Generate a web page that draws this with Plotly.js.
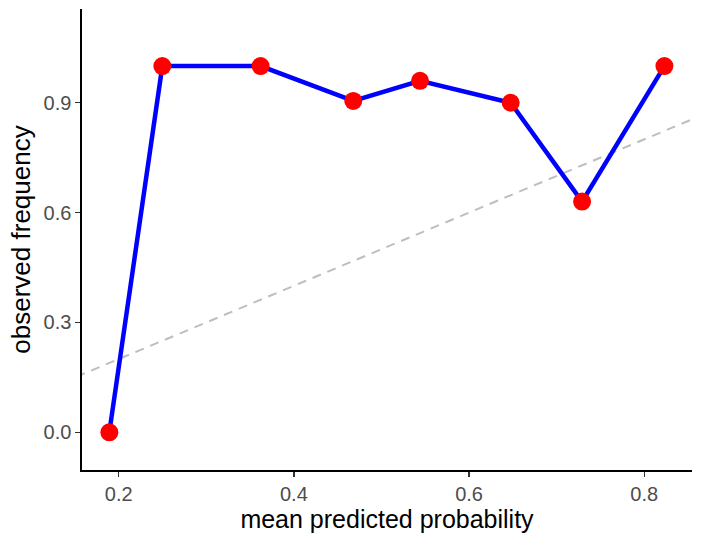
<!DOCTYPE html>
<html>
<head>
<meta charset="utf-8">
<script src="https://cdn.plot.ly/plotly-3.0.1.min.js"></script>
<style>html,body{margin:0;padding:0;background:#fff;}#chart{width:702px;height:541px;}</style>
</head>
<body>
<div id="chart"></div>
<script>
const meanPredicted = [0.1893, 0.2498, 0.362, 0.4678, 0.544, 0.6475, 0.729, 0.823];
const observedFreq = [0.0, 1.0, 1.0, 0.905, 0.96, 0.90, 0.63, 1.0];
const xTicks = [0.2, 0.4, 0.6, 0.8];
const yTicks = [0.0, 0.3, 0.6, 0.9];
const xRange = [0.1581, 0.8545];
const yRange = [-0.103, 1.156];
const diagonal = [0, 1];

const traces = [
  {
    x: diagonal, y: diagonal, type: 'scatter', mode: 'lines',
    line: {color: '#BEBEBE', width: 2, dash: '9px,7px'}, hoverinfo: 'skip', showlegend: false
  },
  {
    x: meanPredicted, y: observedFreq, type: 'scatter', mode: 'lines',
    line: {color: '#0000FF', width: 4.5}, showlegend: false
  },
  {
    x: meanPredicted, y: observedFreq, type: 'scatter', mode: 'markers',
    marker: {color: '#FF0000', size: 18}, showlegend: false
  }
];

const layout = {
  width: 702, height: 541,
  margin: {l: 82, r: 10, t: 9, b: 71},
  paper_bgcolor: '#fff', plot_bgcolor: '#fff',
  font: {family: 'Liberation Sans, Arial, sans-serif'},
  xaxis: {
    range: xRange, tickvals: xTicks, ticktext: xTicks.map(v => v.toFixed(1)),
    showgrid: false, zeroline: false, showline: true, linecolor: '#000', linewidth: 1.6,
    ticks: 'outside', ticklen: 5, tickwidth: 1.3, tickcolor: '#333',
    tickfont: {size: 20, color: '#4D4D4D'},
    title: {text: 'mean predicted probability', font: {size: 25, color: '#000'}, standoff: 5}
  },
  yaxis: {
    range: yRange, tickvals: yTicks, ticktext: yTicks.map(v => v.toFixed(1)),
    showgrid: false, zeroline: false, showline: true, linecolor: '#000', linewidth: 1.6,
    ticks: 'outside', ticklen: 5, tickwidth: 1.3, tickcolor: '#333',
    tickfont: {size: 20, color: '#4D4D4D'},
    title: {text: 'observed frequency', font: {size: 26, color: '#000'}, standoff: 5}
  }
};

Plotly.newPlot('chart', traces, layout, {displayModeBar: false, staticPlot: true});
</script>
</body>
</html>
